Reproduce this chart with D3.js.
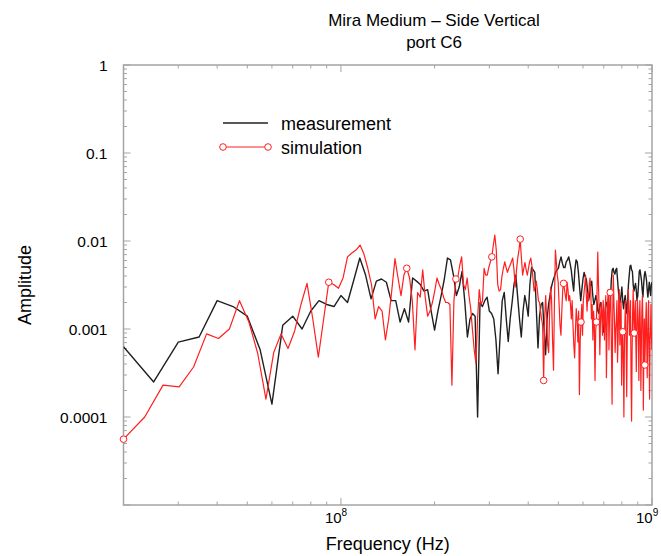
<!DOCTYPE html>
<html>
<head>
<meta charset="utf-8">
<script src="https://cdn.jsdelivr.net/npm/d3@7"></script>
<style>
  body { margin: 0; background: #fff; }
  text { font-family: "Liberation Sans", Arial, Helvetica, sans-serif; fill: #000; }
</style>
</head>
<body>
<div id="chart"></div>
<script>
// ---- chart data ----
const titleLines = ["Mira Medium \u2013 Side Vertical", "port C6"];
const xLabel = "Frequency (Hz)";
const yLabel = "Amplitude";
const xDomain = [2e7, 1e9];
const yDomain = [1e-5, 1];
const xTickValues = [1e8, 1e9];
const xTickExponents = ["8", "9"];
const yTickValues = [1, 0.1, 0.01, 0.001, 0.0001];
const yTickLabels = ["1", "0.1", "0.01", "0.001", "0.0001"];
const seriesNames = ["measurement", "simulation"];

// measurement: 20 MHz .. 1 GHz, 5 MHz spacing
const measStartHz = 20e6;
const measStepHz = 5e6;
const measAmp = [
  6.3e-4, 2.5e-4, 7.1e-4, 8.1e-4, 2.1e-3, 1.8e-3, 1.4e-3, 5.8e-4, 1.4e-4, 1.1e-3,
  1.4e-3, 1.0e-3, 1.6e-3, 2.1e-3, 1.9e-3, 1.8e-3, 2.4e-3, 2.0e-3, 3.6e-3, 6.4e-3,
  4.1e-3, 2.2e-3, 3.5e-3, 3.7e-3, 3.4e-3, 2.1e-3, 2.1e-3, 1.2e-3, 1.7e-3, 1.2e-3,
  3.8e-3, 3.5e-3, 3.2e-3, 2.7e-3, 2.8e-3, 1.6e-3, 9.7e-4, 1.6e-3, 2.4e-3, 3.7e-3,
  6.4e-3, 6.1e-3, 4.1e-3, 2.4e-3, 3.0e-3, 4.5e-3, 2.1e-3, 8.1e-4, 1.3e-3, 1.5e-3,
  1.4e-3, 1.0e-4, 2.0e-3, 1.8e-3, 2.1e-3, 2.3e-3, 1.6e-3, 1.5e-3, 1.3e-3, 7.5e-4,
  3.1e-4, 8.5e-4, 2.1e-3, 2.6e-3, 1.3e-3, 7.2e-4, 1.3e-3, 2.0e-3, 3.2e-3, 4.1e-3,
  2.3e-3, 1.3e-3, 8.1e-4, 1.6e-3, 2.4e-3, 1.9e-3, 1.4e-3, 3.2e-3, 5.0e-3, 4.7e-3,
  4.4e-3, 1.6e-3, 6.1e-4, 1.4e-3, 1.9e-3, 2.0e-3, 9.7e-4, 5.1e-4, 1.3e-3, 1.9e-3,
  2.4e-3, 3.0e-3, 3.5e-3, 3.9e-3, 4.4e-3, 4.7e-3, 4.9e-3, 5.8e-3, 6.6e-3, 5.6e-3,
  5.0e-3, 5.0e-3, 5.8e-3, 6.1e-3, 6.6e-3, 5.6e-3, 4.7e-3, 3.5e-3, 2.7e-3, 4.7e-3,
  6.1e-3, 5.8e-3, 4.4e-3, 3.0e-3, 2.1e-3, 2.8e-3, 3.7e-3, 4.4e-3, 3.9e-3, 3.7e-3,
  2.8e-3, 2.1e-3, 2.4e-3, 3.2e-3, 3.5e-3, 2.4e-3, 1.9e-3, 2.1e-3, 2.4e-3, 2.1e-3,
  1.6e-3, 1.5e-3, 1.9e-3, 2.0e-3, 1.6e-3, 1.1e-3, 9.2e-4, 1.3e-3, 2.0e-3, 2.0e-3,
  1.7e-3, 1.5e-3, 1.5e-3, 2.1e-3, 3.6e-3, 4.7e-3, 4.9e-3, 4.4e-3, 4.2e-3, 4.7e-3,
  4.9e-3, 3.6e-3, 2.7e-3, 2.1e-3, 2.0e-3, 2.4e-3, 3.0e-3, 2.1e-3, 1.7e-3, 2.1e-3,
  2.4e-3, 1.9e-3, 1.5e-3, 2.1e-3, 3.2e-3, 4.1e-3, 5.2e-3, 5.3e-3, 4.7e-3, 4.5e-3,
  3.2e-3, 2.7e-3, 3.0e-3, 3.3e-3, 2.8e-3, 2.1e-3, 2.4e-3, 3.2e-3, 4.5e-3, 4.7e-3,
  4.1e-3, 3.6e-3, 2.8e-3, 2.3e-3, 3.2e-3, 4.1e-3, 4.5e-3, 4.1e-3, 3.6e-3, 2.8e-3,
  2.3e-3, 2.8e-3, 3.4e-3, 2.8e-3, 2.4e-3, 3.2e-3, 3.4e-3
];

// simulation: 20 MHz .. ~1 GHz, 3.4 MHz spacing, a marker every 21 samples
const simStartHz = 20e6;
const simStepHz = 3.4e6;
const simMarkerEvery = 21;
const simAmp = [
  5.6e-5, 1.0e-4, 2.3e-4, 2.2e-4, 3.7e-4, 8.8e-4, 7.8e-4, 1.0e-3, 2.1e-3, 1.2e-3,
  5.3e-4, 1.6e-4, 5.4e-4, 8.8e-4, 6.0e-4, 9.5e-4, 1.9e-3, 3.3e-3, 1.3e-3, 4.8e-4,
  1.3e-3, 3.4e-3, 3.2e-3, 2.9e-3, 3.8e-3, 6.6e-3, 7.3e-3, 7.9e-3, 9.0e-3, 7.1e-3,
  4.9e-3, 3.2e-3, 1.3e-3, 1.8e-3, 1.6e-3, 7.5e-4, 1.3e-3, 2.8e-3, 6.3e-3, 3.8e-3,
  2.4e-3, 4.1e-3, 4.9e-3, 3.8e-3, 2.1e-3, 5.8e-4, 2.6e-3, 2.3e-3, 4.7e-3, 2.3e-3,
  1.4e-3, 1.6e-3, 2.0e-3, 2.7e-3, 3.8e-3, 3.2e-3, 2.8e-3, 2.3e-3, 2.0e-3, 2.0e-3,
  1.9e-3, 2.3e-4, 2.1e-3, 3.7e-3, 3.9e-3, 5.3e-3, 6.6e-3, 3.2e-3, 2.8e-3, 3.8e-3,
  2.4e-3, 1.7e-3, 9.7e-4, 5.8e-4, 4.1e-4, 1.3e-3, 2.8e-3, 1.9e-3, 2.1e-3, 4.9e-3,
  4.1e-3, 4.1e-3, 5.0e-3, 5.8e-3, 6.6e-3, 9.0e-3, 1.17e-2, 7.9e-3, 3.2e-3, 2.7e-3,
  2.8e-3, 4.0e-3, 4.9e-3, 5.8e-3, 5.0e-3, 4.4e-3, 4.9e-3, 5.3e-3, 5.8e-3, 6.4e-3,
  4.7e-3, 3.0e-3, 4.7e-3, 6.4e-3, 7.9e-3, 1.05e-2, 6.4e-3, 4.1e-3, 4.9e-3, 5.7e-3,
  4.7e-3, 4.1e-3, 4.9e-3, 5.8e-3, 6.4e-3, 5.3e-3, 3.7e-3, 2.7e-3, 3.0e-3, 3.5e-3,
  2.8e-3, 2.1e-3, 2.0e-3, 1.6e-3, 1.3e-3, 1.1e-3, 2.6e-4, 1.3e-3, 2.4e-3, 1.3e-3,
  6.6e-4, 5.4e-4, 1.6e-3, 3.0e-3, 2.1e-3, 7.5e-4, 3.4e-4, 2.1e-3, 7.9e-3, 5.7e-3,
  4.1e-3, 3.4e-3, 1.9e-3, 1.1e-3, 8.5e-4, 1.6e-3, 2.8e-3, 3.3e-3, 2.8e-3, 2.4e-3,
  2.1e-3, 3.4e-3, 2.8e-3, 2.1e-3, 2.4e-3, 1.9e-3, 1.3e-3, 2.1e-3, 1.1e-3, 6.6e-4,
  4.7e-4, 9.7e-4, 1.7e-3, 1.3e-3, 7.1e-4, 1.6e-3, 1.8e-4, 7.5e-4, 1.2e-3, 1.9e-3,
  8.5e-4, 2.1e-3, 2.6e-3, 3.2e-3, 4.1e-3, 2.4e-3, 1.6e-3, 2.6e-3, 2.1e-3, 3.2e-3,
  3.8e-3, 2.8e-3, 1.3e-3, 1.9e-3, 7.5e-4, 1.6e-3, 1.1e-3, 2.6e-4, 9.7e-4, 1.2e-3,
  2.8e-3, 7.5e-3, 3.2e-3, 1.7e-3, 5.1e-4, 1.3e-3, 2.0e-3, 1.4e-3, 8.5e-4, 2.1e-3,
  1.5e-3, 7.5e-4, 1.5e-3, 2.4e-3, 2.8e-4, 9.7e-4, 2.1e-3, 2.8e-3, 5.8e-4, 1.6e-3,
  2.6e-3, 2.1e-3, 5.4e-4, 1.4e-4, 1.3e-3, 4.1e-3, 2.1e-3, 1.1e-3, 5.4e-4, 9.7e-4,
  1.3e-3, 2.1e-3, 4.2e-4, 7.5e-4, 2.1e-3, 2.8e-3, 6.6e-4, 1.3e-3, 2.1e-3, 2.3e-4,
  5.8e-4, 9.3e-4, 4.4e-4, 1.0e-4, 7.5e-4, 1.4e-3, 2.1e-3, 6.6e-4, 1.7e-4, 7.5e-4,
  1.9e-3, 2.8e-3, 1.6e-3, 8.5e-4, 1.4e-3, 2.1e-3, 2.6e-4, 9.0e-5, 5.8e-4, 1.6e-3,
  2.8e-3, 1.3e-3, 9.0e-4, 1.5e-3, 2.1e-3, 7.5e-4, 3.3e-4, 9.7e-4, 2.2e-3, 1.6e-3,
  8.5e-4, 2.6e-4, 1.3e-3, 2.1e-3, 9.7e-4, 2.0e-4, 6.6e-4, 1.6e-3, 2.4e-3, 1.3e-3,
  1.2e-4, 5.8e-4, 1.3e-3, 3.9e-4, 6.6e-4, 1.3e-3, 2.0e-3, 7.5e-4, 2.8e-4, 6.6e-4,
  1.6e-3, 2.1e-3, 5.4e-4, 1.6e-4, 7.5e-4, 9.7e-4, 1.9e-3, 8.5e-4, 5.8e-4
];

// ---- layout ----
const width = 661, height = 556;
const margin = { top: 65, right: 9, bottom: 51, left: 123.5 };
const plotW = width - margin.left - margin.right;
const plotH = height - margin.top - margin.bottom;
const titleX = 434;
const frameColor = "#a4a4a4";
const measColor = "#202020";
const simColor = "#ff1f1f";

const measData = measAmp.map((a, i) => ({ f: measStartHz + i * measStepHz, a }));
const simData = simAmp.map((a, i) => ({ f: simStartHz + i * simStepHz, a, i }));

const svg = d3.select("#chart").append("svg")
  .attr("width", width)
  .attr("height", height);

const g = svg.append("g")
  .attr("transform", `translate(${margin.left},${margin.top})`);

const x = d3.scaleLog().domain(xDomain).range([0, plotW]);
const y = d3.scaleLog().domain(yDomain).range([plotH, 0]);

// title
svg.selectAll("text.title")
  .data(titleLines)
  .join("text")
  .attr("class", "title")
  .attr("x", titleX)
  .attr("y", (d, i) => 26 + i * 22)
  .attr("text-anchor", "middle")
  .style("font-size", "17px")
  .text(d => d);

// minor + major tick positions
function logTicks(domain) {
  const out = [];
  const lo = Math.floor(Math.log10(domain[0]));
  const hi = Math.ceil(Math.log10(domain[1]));
  for (let e = lo; e <= hi; e++) {
    for (let m = 1; m <= 9; m++) {
      const v = m * Math.pow(10, e);
      if (v >= domain[0] * 0.999 && v <= domain[1] * 1.001) out.push({ v, major: m === 1 });
    }
  }
  return out;
}

const ticksG = g.append("g").attr("stroke", frameColor).attr("stroke-width", 1);

const xt = logTicks(xDomain);
ticksG.selectAll("line.xb").data(xt).join("line")
  .attr("x1", d => x(d.v)).attr("x2", d => x(d.v))
  .attr("y1", plotH).attr("y2", d => plotH - (d.major ? 7 : 3.5));
ticksG.selectAll("line.xt").data(xt).join("line")
  .attr("x1", d => x(d.v)).attr("x2", d => x(d.v))
  .attr("y1", 0).attr("y2", d => (d.major ? 7 : 3.5));

const yt = logTicks(yDomain);
ticksG.selectAll("line.yl").data(yt).join("line")
  .attr("y1", d => y(d.v)).attr("y2", d => y(d.v))
  .attr("x1", 0).attr("x2", d => (d.major ? 7 : 3.5));
ticksG.selectAll("line.yr").data(yt).join("line")
  .attr("y1", d => y(d.v)).attr("y2", d => y(d.v))
  .attr("x1", plotW).attr("x2", d => plotW - (d.major ? 7 : 3.5));

// frame
g.append("rect")
  .attr("width", plotW)
  .attr("height", plotH)
  .attr("fill", "none")
  .attr("stroke", frameColor)
  .attr("stroke-width", 1.5);

// y tick labels
g.selectAll("text.ylab")
  .data(yTickValues)
  .join("text")
  .attr("class", "ylab")
  .attr("x", -16)
  .attr("y", d => y(d) + 5.5)
  .attr("text-anchor", "end")
  .style("font-size", "15.5px")
  .text((d, i) => yTickLabels[i]);

// x tick labels (10 with superscript exponent)
const xl = g.selectAll("text.xlab")
  .data(xTickValues)
  .join("text")
  .attr("class", "xlab")
  .attr("x", d => x(d) - 16)
  .attr("y", plotH + 18)
  .style("font-size", "15px");
xl.append("tspan").text("10");
xl.append("tspan")
  .attr("dy", -7)
  .style("font-size", "10px")
  .text((d, i) => xTickExponents[i]);

// axis titles
svg.append("text")
  .attr("x", margin.left + plotW / 2)
  .attr("y", height - 6)
  .attr("text-anchor", "middle")
  .style("font-size", "18px")
  .text(xLabel);

svg.append("text")
  .attr("transform", `translate(31,${margin.top + plotH / 2}) rotate(-90)`)
  .attr("text-anchor", "middle")
  .style("font-size", "18px")
  .text(yLabel);

// series
g.append("clipPath").attr("id", "plot-clip")
  .append("rect").attr("width", plotW).attr("height", plotH);

const line = d3.line()
  .x(d => x(d.f))
  .y(d => y(d.a));

const plot = g.append("g").attr("clip-path", "url(#plot-clip)");

plot.append("path")
  .datum(measData)
  .attr("fill", "none")
  .attr("stroke", measColor)
  .attr("stroke-width", 1.4)
  .attr("stroke-linejoin", "round")
  .attr("d", line);

plot.append("path")
  .datum(simData)
  .attr("fill", "none")
  .attr("stroke", simColor)
  .attr("stroke-width", 1.2)
  .attr("stroke-linejoin", "round")
  .attr("d", line);

g.selectAll("circle.marker")
  .data(simData.filter(d => d.i % simMarkerEvery === 0))
  .join("circle")
  .attr("class", "marker")
  .attr("cx", d => x(d.f))
  .attr("cy", d => y(d.a))
  .attr("r", 3.3)
  .attr("fill", "#fff")
  .attr("stroke", simColor)
  .attr("stroke-width", 1);

// legend
const legend = svg.append("g").attr("transform", "translate(223,123)");
const legendRows = legend.selectAll("g")
  .data(seriesNames)
  .join("g")
  .attr("transform", (d, i) => `translate(0,${i * 24})`);

legendRows.append("line")
  .attr("x1", 0).attr("x2", 45)
  .attr("stroke", (d, i) => (i === 0 ? measColor : simColor))
  .attr("stroke-width", (d, i) => (i === 0 ? 1.4 : 1.2));

legendRows.filter((d, i) => i === 1)
  .selectAll("circle")
  .data([0, 45])
  .join("circle")
  .attr("cx", d => d)
  .attr("r", 3.3)
  .attr("fill", "#fff")
  .attr("stroke", simColor);

legendRows.append("text")
  .attr("x", 58)
  .attr("y", 6.5)
  .style("font-size", "18px")
  .text(d => d);
</script>
</body>
</html>
